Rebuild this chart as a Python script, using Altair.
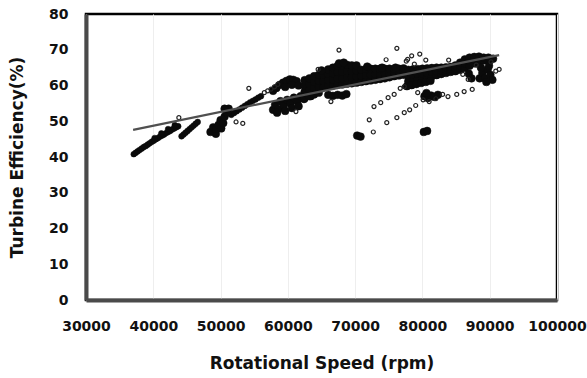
import altair as alt
import pandas as pd

# ---- narrow streaks of measurements (solid-looking chains) ----
chain_rpm = [
    37100, 37400, 37700, 38000, 38300, 38600, 38900, 39200, 39500, 39800, 40100, 40400, 40700,
    41000, 41300, 41600, 41900, 42200, 42500, 42800, 43100, 43400, 43700,
    40200, 41200, 42200, 43200,
    44200, 44500, 44800, 45100, 45400, 45700, 46000, 46300, 46600,
    51600, 52000, 52400, 52800, 53200, 53600, 54000, 54400, 54800, 55200, 55600, 56000,
]
chain_eff = [
    40.8, 41.2, 41.6, 42.0, 42.4, 42.8, 43.1, 43.5, 43.9, 44.3, 44.6, 45.0, 45.3,
    45.7, 46.0, 46.3, 46.7, 47.0, 47.3, 47.7, 48.0, 48.3, 48.6,
    45.3, 46.6, 47.8, 48.9,
    45.8, 46.3, 46.8, 47.3, 47.8, 48.3, 48.8, 49.3, 49.8,
    51.8, 52.3, 52.8, 53.3, 53.8, 54.3, 54.8, 55.3, 55.7, 56.1, 56.6, 57.0,
]

# ---- dense (solid-looking) clusters of measurements ----
dense_rpm = [
    48500, 48900, 49300, 49300, 49700, 50100, 50000, 50400, 50600, 50900, 51200, 50600,
    # upper blob ~60000
    57800, 58300, 58800, 59300, 59800, 60300, 60800, 61300, 59600, 60600, 61600,
    # lower blob ~60000
    57800, 58100, 58600, 58900, 59400, 59900, 60400, 60900, 61400, 61900, 62400, 62900, 63400, 63900,
    58400, 59600, 60600, 61600,
    # main band 62500-77200
    62500, 62500, 62500, 62500, 63200, 63200, 63200, 63200, 63900, 63900, 63900, 63900,
    64600, 64600, 64600, 64600, 65300, 65300, 65300, 66000, 66000, 66000, 66000,
    66700, 66700, 66700, 66700, 67400, 67400, 67400, 67400, 68100, 68100, 68100, 68100,
    68800, 68800, 68800, 68800, 69500, 69500, 69500, 69500, 70200, 70200, 70200, 70200,
    70900, 70900, 70900, 71600, 71600, 71600, 72300, 72300, 72300, 73000, 73000, 73000,
    73700, 73700, 73700, 74400, 74400, 74400, 75100, 75100, 75100, 75800, 75800, 75800,
    76500, 76500, 76500, 77200, 77200, 77200,
    67600, 68300, 65000, 71800, 74000, 76000,
    66000, 66700, 67400, 68100, 68700,
    # main band 77900-90500
    77900, 77900, 77900, 78600, 78600, 78600, 79300, 79300, 79300, 80000, 80000, 80000,
    80700, 80700, 80700, 81400, 81400, 81400, 82100, 82100, 82100, 82800, 82800, 82800,
    83500, 83500, 83500, 84200, 84200, 84200, 84900, 84900, 84900, 85600, 85600, 85600,
    86300, 86300, 86300, 87000, 87000, 87000, 87700, 87700, 87700, 88400, 88400, 88400,
    89100, 89100, 89800, 89800, 90500,
    77700, 78400, 79100, 79800, 80500, 81200,
    88500, 88900, 89300, 89700, 90100, 90400, 88700, 89500, 89900,
    86900, 87300,
    80300, 80800, 81300, 81800, 82300, 80600,
    70300, 70800, 80200, 80700,
]
dense_eff = [
    47.0, 48.3, 46.5, 47.8, 49.0, 48.0, 50.3, 49.5, 51.3, 52.4, 53.5, 53.5,
    58.5, 59.3, 60.2, 60.8, 61.3, 61.7, 61.6, 61.2, 59.6, 60.2, 60.0,
    53.2, 54.6, 53.4, 55.6, 54.4, 56.0, 55.0, 56.6, 55.6, 57.0, 56.2, 57.6, 57.0, 58.2,
    52.4, 52.9, 53.7, 54.2,
    56.5, 58.3, 60.0, 61.5, 57.0, 58.8, 60.5, 62.0, 57.5, 59.2, 61.0, 62.6,
    58.0, 59.6, 61.3, 63.0, 59.5, 61.2, 63.0, 59.8, 61.5, 63.2, 64.5,
    60.0, 61.7, 63.4, 65.0, 60.2, 62.0, 63.8, 65.5, 60.3, 62.0, 63.8, 65.6,
    60.5, 62.2, 64.0, 65.8, 60.6, 62.3, 64.0, 65.6, 60.8, 62.5, 64.2, 65.6,
    61.0, 62.7, 64.4, 61.2, 62.9, 64.6, 61.4, 63.0, 64.7, 61.6, 63.2, 64.7,
    61.8, 63.3, 64.7, 62.0, 63.4, 64.7, 62.3, 63.5, 64.7, 62.6, 63.7, 64.6,
    62.8, 63.9, 64.7, 63.0, 64.1, 64.8,
    66.2, 66.4, 64.2, 65.3, 65.0, 65.0,
    57.4, 57.1, 57.4, 57.2, 57.6,
    61.2, 62.8, 64.4, 61.5, 63.0, 64.5, 61.8, 63.2, 64.6, 62.0, 63.4, 64.7,
    62.3, 63.6, 64.8, 62.6, 63.8, 64.9, 62.9, 64.0, 65.0, 63.2, 64.2, 65.0,
    63.5, 64.4, 65.1, 63.8, 64.6, 65.2, 64.0, 65.0, 65.6, 64.4, 65.6, 66.4,
    64.9, 66.2, 67.3, 65.5, 66.8, 67.8, 66.2, 67.3, 68.0, 66.8, 67.6, 68.1,
    67.0, 67.8, 67.2, 67.8, 67.5,
    59.8, 60.1, 60.4, 60.7, 61.0, 61.3,
    62.0, 63.5, 62.0, 64.5, 63.0, 61.6, 65.0, 61.0, 65.5,
    63.3, 62.0,
    57.0, 56.5, 57.2, 56.8, 57.4, 57.9,
    46.0, 45.7, 47.0, 47.3,
]

# ---- scattered individual measurements (open circles) ----
sparse_rpm = [
    43800, 52300, 53300, 54200, 56500, 57000, 57500, 58000, 58500, 61200,
    64500, 67600, 66400, 76200, 74600, 78400, 79600, 80500, 77800, 78800, 77600,
    72800, 73800, 74900, 75800, 76700, 77300,
    72100, 72700, 74700, 76200, 77300, 78100, 79000, 79300, 80100, 81000, 82000,
    83000, 83800, 85100, 86200, 87400,
    83900, 88000, 90200, 90900, 91400, 86800, 86000,
]
sparse_eff = [
    51.0, 49.8, 49.4, 59.2, 58.0, 58.5, 59.0, 59.6, 60.3, 52.7,
    64.5, 69.9, 55.5, 70.4, 67.2, 68.3, 68.8, 67.1, 67.3, 66.0, 66.8,
    54.1, 55.2, 56.6, 57.5, 59.2, 59.7,
    50.4, 47.0, 49.6, 51.0, 52.4, 53.2, 54.4, 58.0, 56.0, 55.5, 56.3,
    57.5, 56.9, 57.5, 58.3, 58.9,
    67.1, 65.7, 66.6, 64.0, 64.5, 61.7, 63.1,
]

# ---- linear trend line ----
trend_rpm = [37000, 91400]
trend_eff = [47.6, 68.5]

x_ticks = [30000, 40000, 50000, 60000, 70000, 80000, 90000, 100000]
y_ticks = [0, 10, 20, 30, 40, 50, 60, 70, 80]

chain = pd.DataFrame({"rpm": chain_rpm, "eff": chain_eff})
dense = pd.DataFrame({"rpm": dense_rpm, "eff": dense_eff})
sparse = pd.DataFrame({"rpm": sparse_rpm, "eff": sparse_eff})
trend = pd.DataFrame({"rpm": trend_rpm, "eff": trend_eff})

FONT = "DejaVu Sans"

x_enc = alt.X(
    "rpm:Q",
    scale=alt.Scale(domain=[30000, 100000], nice=False, zero=False),
    axis=alt.Axis(
        values=x_ticks, format="d", title="Rotational Speed (rpm)",
        grid=True, gridColor="#eeeeee", gridWidth=1,
        ticks=False, tickSize=0, labelPadding=19,
        labelFont=FONT, labelFontSize=14, labelFontWeight="bold", labelColor="#111111",
        titleFont=FONT, titleFontSize=17, titleFontWeight="bold", titleColor="#111111",
        titleY=55,
        domainColor="#4a4a4a", domainWidth=4,
        labelFlush=False, labelOverlap=False,
    ),
)
y_enc = alt.Y(
    "eff:Q",
    scale=alt.Scale(domain=[0, 80], nice=False),
    axis=alt.Axis(
        values=y_ticks, tickCount=9, title="Turbine Efficiency(%)",
        grid=False, ticks=False, tickSize=0, labelPadding=18,
        labelFont=FONT, labelFontSize=14, labelFontWeight="bold", labelColor="#111111",
        titleFont=FONT, titleFontSize=17, titleFontWeight="bold", titleColor="#111111",
        titleX=-64, titleBaseline="alphabetic",
        domainColor="#4a4a4a", domainWidth=4,
        labelFlush=False, labelOverlap=False,
    ),
)

chain_layer = alt.Chart(chain).mark_circle(
    size=34, color="#0a0a0a", opacity=1, stroke="#0a0a0a", strokeWidth=0.5
).encode(x=x_enc, y=y_enc)

dense_layer = alt.Chart(dense).mark_circle(
    size=60, color="#0a0a0a", opacity=1, stroke="#0a0a0a", strokeWidth=0.5
).encode(x=x_enc, y=y_enc)

sparse_layer = alt.Chart(sparse).mark_point(
    shape="circle", size=16, filled=False, color="#222222", strokeWidth=1.2, opacity=1
).encode(x=x_enc, y=y_enc)

trend_layer = alt.Chart(trend).mark_line(
    color="#505050", strokeWidth=2.2
).encode(x=x_enc, y=y_enc)

chart = (
    alt.layer(chain_layer, dense_layer, sparse_layer, trend_layer)
    .properties(
        width=471, height=286,
        autosize=alt.AutoSizeParams(type="none"),
        padding={"left": 86, "top": 14, "right": 30, "bottom": 78},
        background="white",
    )
    .configure_view(stroke="#000000", strokeWidth=2.5)
)

chart.save("out.html", embed_options={"renderer": "svg", "actions": False})
